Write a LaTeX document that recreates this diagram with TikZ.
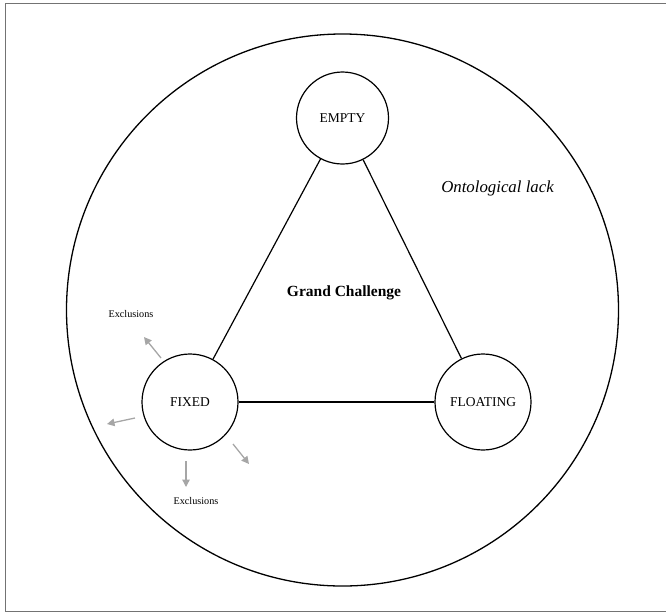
\documentclass[tikz,border=0pt]{standalone}
\usepackage{fontspec}
\setmainfont{Liberation Serif}
\usetikzlibrary{arrows.meta}
\begin{document}
\begin{tikzpicture}[x=1pt,y=-1pt,
  stage/.style={circle,draw=black,line width=1.2pt,minimum size=96pt,inner sep=0pt,font=\fontsize{13.5}{15}\selectfont},
  link/.style={draw=black,line width=1.2pt},
  excl/.style={draw=black!35,line width=1.3pt,-{Triangle[length=7.5pt,width=7.5pt]}},
  excllabel/.style={font=\fontsize{10.2}{12}\selectfont}]
\useasboundingbox (0,0) rectangle (666,614);
\draw[black!55,line width=0.8pt] (667,3) -- (5,3) -- (5,611) -- (667,611);
\node[circle,draw=black,line width=1.3pt,minimum size=552pt,inner sep=0pt] (world) at (342.5,310) {};
\node[stage,minimum size=92pt] (empty) at (342.5,118) {EMPTY};
\node[stage] (fixed) at (190,402) {FIXED};
\node[stage] (floating) at (483,402) {FLOATING};
\draw[link] (fixed) -- (empty);
\draw[link] (empty) -- (floating);
\draw[link] (fixed) -- (floating);
\node[font=\bfseries\fontsize{15.5}{17}\selectfont] (gc) at (344,293) {Grand Challenge};
\node[font=\itshape\fontsize{16.8}{19}\selectfont] (ol) at (497.5,188) {Ontological lack};
\node[excllabel] (ex1) at (131,314) {Exclusions};
\node[excllabel] (ex2) at (196,501) {Exclusions};
\coordinate (a1s) at (161,358); \coordinate (a1e) at (144,337);
\coordinate (a2s) at (135,418); \coordinate (a2e) at (107,424);
\coordinate (a3s) at (186,461); \coordinate (a3e) at (186,487);
\coordinate (a4s) at (233,444); \coordinate (a4e) at (249,464);
\draw[excl] (a1s) -- (a1e);
\draw[excl] (a2s) -- (a2e);
\draw[excl] (a3s) -- (a3e);
\draw[excl] (a4s) -- (a4e);
\end{tikzpicture}
\end{document}
